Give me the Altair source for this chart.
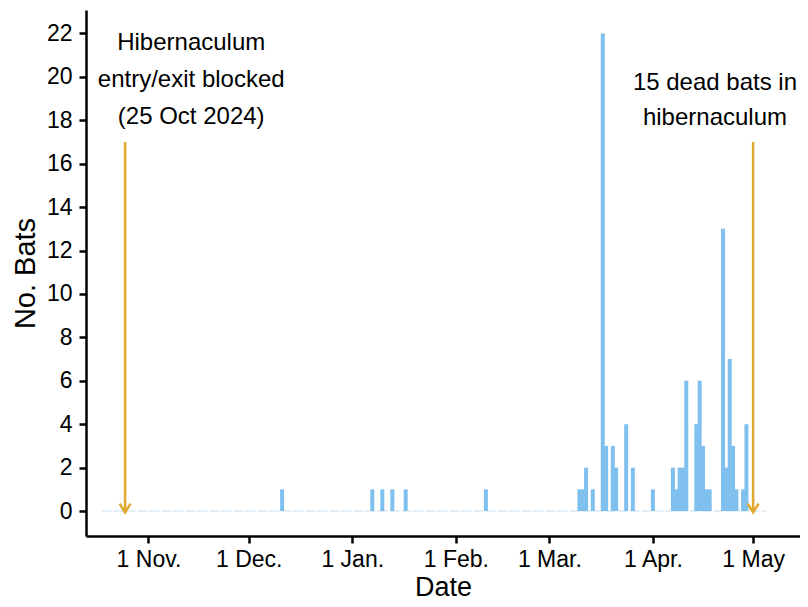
import altair as alt
import pandas as pd

# ---- data ----
bat_dates = ["2024-12-11", "2025-01-07", "2025-01-10", "2025-01-13", "2025-01-17", "2025-02-10",
             "2025-03-10", "2025-03-11", "2025-03-12", "2025-03-14", "2025-03-17", "2025-03-18",
             "2025-03-20", "2025-03-21", "2025-03-24", "2025-03-26",
             "2025-04-01", "2025-04-07", "2025-04-08", "2025-04-09", "2025-04-10", "2025-04-11",
             "2025-04-14", "2025-04-15", "2025-04-16", "2025-04-17", "2025-04-18", "2025-04-22",
             "2025-04-23", "2025-04-24", "2025-04-25", "2025-04-26", "2025-04-28", "2025-04-29"]
bat_counts = [1, 1, 1, 1, 1, 1,
              1, 1, 2, 1, 22, 3, 3, 2, 4, 2,
              1, 2, 1, 2, 2, 6, 4, 6, 3, 1, 1, 13, 2, 7, 3, 1, 1, 4]

baseline_start = ["2024-10-18"]
baseline_end = ["2025-05-05"]

arrow_dates = ["2024-10-25", "2025-05-01"]
arrow_top = [17, 17]

ann_text = ["Hibernaculum", "entry/exit blocked", "(25 Oct 2024)", "15 dead bats in", "hibernaculum"]
ann_date = ["2024-11-13T19:00:00Z"] * 3 + ["2025-04-19T14:00:00Z"] * 2
ann_y = [21.56, 19.85, 18.15, 19.71, 18.1]

y_ticks = list(range(0, 23, 2))
month_labels = ["1 Jan.", "1 Feb.", "1 Mar.", "1 Apr.", "1 May", "", "", "", "", "", "1 Nov.", "1 Dec."]
tick_months = [(2024, 11), (2024, 12), (2025, 1), (2025, 2), (2025, 3), (2025, 4), (2025, 5)]

BAR = "#80C0EE"
GOLD = "#E0A82E"
FONT = "Liberation Sans"

bars_df = pd.DataFrame({"date": bat_dates, "count": bat_counts})
base_df = pd.DataFrame({"start": baseline_start, "end": baseline_end, "y": [0]})
arrow_df = pd.DataFrame({"date": arrow_dates, "top": arrow_top, "bottom": [0, 0]})
ann_df = pd.DataFrame({"date": ann_date, "y": ann_y, "text": ann_text})

label_expr = "[" + ",".join("'%s'" % m for m in month_labels) + "][utcmonth(datum.value)]"

x_scale = alt.Scale(type="utc",
                    domain=[alt.DateTime(year=2024, month=10, date=14, hours=19, utc=True),
                            alt.DateTime(year=2025, month=5, date=13, hours=13, utc=True)])
y_scale = alt.Scale(domain=[-1.15, 23.08], nice=False, zero=False)

x_axis = alt.Axis(title="Date",
                  values=[alt.DateTime(year=y, month=m, date=1, utc=True) for y, m in tick_months],
                  labelExpr=label_expr, labelPadding=5, titlePadding=3, titleFontSize=27)
y_axis = alt.Axis(title="No. Bats", values=y_ticks, labelPadding=7, titlePadding=6, titleFontSize=29)

baseline = alt.Chart(base_df).mark_rule(color="#DCE9F4", strokeWidth=1.5, strokeDash=[10, 2]).encode(
    x=alt.X("start:T", scale=x_scale, axis=x_axis),
    x2="end:T",
    y=alt.Y("y:Q", scale=y_scale, axis=y_axis),
)

bars = alt.Chart(bars_df).mark_bar(color=BAR, size=4).encode(
    x=alt.X("date:T", scale=x_scale, axis=x_axis),
    y=alt.Y("count:Q", scale=y_scale, axis=y_axis),
    y2=alt.datum(0),
)

arrows = alt.Chart(arrow_df).mark_rule(color=GOLD, strokeWidth=2.5).encode(
    x=alt.X("date:T", scale=x_scale),
    y=alt.Y("top:Q", scale=y_scale),
    y2="bottom:Q",
)

heads = alt.Chart(arrow_df).mark_point(
    shape="M-1,-0.8L0,0.8L1,-0.8", filled=False, color=GOLD, strokeWidth=2.5,
    size=121, opacity=1, yOffset=-3, strokeJoin="miter",
).encode(
    x=alt.X("date:T", scale=x_scale),
    y=alt.Y("bottom:Q", scale=y_scale),
)

texts = alt.Chart(ann_df).mark_text(font=FONT, fontSize=24, color="black",
                                    align="center", baseline="middle").encode(
    x=alt.X("date:T", scale=x_scale),
    y=alt.Y("y:Q", scale=y_scale),
    text="text:N",
)

chart = alt.layer(baseline, bars, arrows, heads, texts).properties(
    width=714, height=526,
    autosize=alt.AutoSizeParams(type="none"),
    padding={"left": 78, "top": 2, "right": 0, "bottom": 63},
).configure_view(stroke=None).configure_axis(
    grid=False, domainColor="black", domainWidth=2.5, tickColor="black", tickWidth=2.5,
    tickSize=7, labelFont=FONT, labelFontSize=23, labelColor="black",
    titleFont=FONT, titleFontWeight="normal", titleColor="black",
)

chart.save("out.html", embed_options={"renderer": "svg", "actions": False})
